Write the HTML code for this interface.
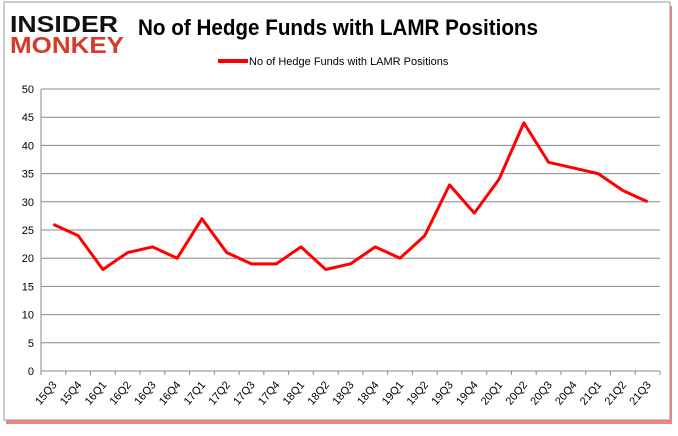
<!DOCTYPE html>
<html><head><meta charset="utf-8"><style>
body{margin:0;background:#fff;width:678px;height:431px;overflow:hidden;font-family:"Liberation Sans",sans-serif}
</style></head><body>
<svg width="678" height="431" id="svg">
<rect x="6" y="6" width="666" height="418" fill="#e00" opacity="0.5"/>
<rect x="4" y="2" width="666" height="418" fill="#fff" stroke="#999" stroke-width="1"/>
<g>
<text x="10" y="32" font-family="Liberation Sans" font-weight="bold" font-size="23" fill="#111" textLength="108" lengthAdjust="spacingAndGlyphs">INSIDER</text>
<text x="10" y="53" font-family="Liberation Sans" font-weight="bold" font-size="23" fill="#d63a2a" textLength="114" lengthAdjust="spacingAndGlyphs">MONKEY</text>
</g>
<text x="138" y="35" font-size="22" font-weight="bold" fill="#000" textLength="400" lengthAdjust="spacingAndGlyphs">No of Hedge Funds with LAMR Positions</text>
<line x1="218" y1="61" x2="248" y2="61" stroke="#f00" stroke-width="4"/>
<text x="249" y="65" font-size="11" fill="#000">No of Hedge Funds with LAMR Positions</text>
<g id="g"></g>
</svg>
<script>
const categories=["15Q3","15Q4","16Q1","16Q2","16Q3","16Q4","17Q1","17Q2","17Q3","17Q4","18Q1","18Q2","18Q3","18Q4","19Q1","19Q2","19Q3","19Q4","20Q1","20Q2","20Q3","20Q4","21Q1","21Q2","21Q3"];
const values=[26,24,18,21,22,20,27,21,19,19,22,18,19,22,20,24,33,28,34,44,37,36,35,32,30];
const yTicks=[0,5,10,15,20,25,30,35,40,45,50];
const X0=41,X1=660,Y0=371,Y1=89,YMAX=50;
const bw=(X1-X0)/categories.length;
const xs=i=>X0+bw*(i+0.5);
const ys=v=>Y0-(v/YMAX)*(Y0-Y1);
const g=document.getElementById('g');
const NS="http://www.w3.org/2000/svg";
function mk(t,a){const e=document.createElementNS(NS,t);for(const k in a)e.setAttribute(k,a[k]);g.appendChild(e);return e;}
yTicks.forEach(v=>{
 const l=mk('line',{x1:X0,x2:X1,y1:ys(v),y2:ys(v),stroke:'#888','stroke-width':1});
 
 
 const t=mk('text',{x:X0-7,y:ys(v)+4,'text-anchor':'end','font-size':11,fill:'#000'});
 t.textContent=v;
 
 
});
const ax=mk('line',{x1:X0,x2:X0,y1:Y1,y2:Y0,stroke:'#888'});


for(let i=0;i<=categories.length;i++){
 const tk=mk('line',{x1:X0+bw*i,x2:X0+bw*i,y1:Y0,y2:Y0+4,stroke:'#888'});
 
 
}
categories.forEach((c,i)=>{
 const x=xs(i)+4,y=Y0+14;
 const t=mk('text',{x:x,y:y,'text-anchor':'end','font-size':11,fill:'#000',transform:`rotate(-50 ${x} ${y})`});
 t.textContent=c;
 
 
});
const p=mk('polyline',{points:values.map((v,i)=>xs(i)+','+ys(v)).join(' '),fill:'none',stroke:'#f00','stroke-width':3,'stroke-linejoin':'round'});


</script>
</body></html>
